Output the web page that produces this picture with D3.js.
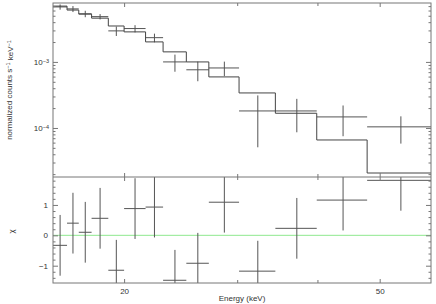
<!DOCTYPE html>
<html lang="en">
<head>
    <meta charset="UTF-8">
    <title>Spectrum</title>
    <script src="https://d3js.org/d3.v7.min.js"></script>
    <style>
        body { margin: 0; background: #fff; }
        text { font-family: "Liberation Sans", Arial, sans-serif; fill: #333; }
    </style>
</head>
<body>
<script>

    const width = 436;
    const height = 304;

    // bin edges (keV), data, errors, folded model, residuals
    const eEdges = [15.5, 16.3, 17.0, 17.8, 18.9, 20.0, 21.6, 23.0, 25.0, 27.1, 30.2, 34.4, 39.9, 47.8, 60.1];
    const rate = [6.8e-3, 6.35e-3, 5.35e-3, 4.85e-3, 2.95e-3, 3.2e-3, 2.33e-3, 1.0e-3, 7.6e-4, 8.1e-4, 1.81e-4, 1.81e-4, 1.47e-4, 1.04e-4];
    const rateErr = [6.2e-4, 6.6e-4, 6.0e-4, 4.5e-4, 4.8e-4, 4.0e-4, 3.5e-4, 2.9e-4, 2.5e-4, 2.0e-4, 1.3e-4, 9.5e-5, 7.2e-5, 4.6e-5];
    const model = [7.0e-3, 6.1e-3, 5.3e-3, 4.6e-3, 3.5e-3, 2.85e-3, 2.01e-3, 1.42e-3, 1.0e-3, 5.93e-4, 3.39e-4, 1.67e-4, 6.58e-5, 2.08e-5];
    const chi = [-0.33, 0.40, 0.10, 0.56, -1.15, 0.88, 0.93, -1.48, -0.92, 1.09, -1.18, 0.23, 1.16, 1.81];

    const xMajor = [20, 50];
    const xMinor = [30, 40];
    const yUpMajor = [1e-3, 1e-4];
    const yUpLabels = ["-3", "-4"];
    const yLoMajor = [-1, 0, 1];

    const pLeft = 53, pRight = 431, pTop = 3, pMid = 177, pBottom = 283;
    const lineCol = "#555";
    const frameCol = "#777";

    const x = d3.scaleLog().domain([15.5, 60.1]).range([pLeft, pRight]);
    const yU = d3.scaleLog().domain([1.81e-5, 7.8e-3]).range([pMid, pTop]);
    const yL = d3.scaleLinear().domain([-1.57, 1.92]).range([pBottom, pMid]);

    const bins = rate.map((r, i) => ({
        lo: eEdges[i], hi: eEdges[i + 1], c: (eEdges[i] + eEdges[i + 1]) / 2,
        r: r, e: rateErr[i], m: model[i], chi: chi[i]
    }));

    const svg = d3.select("body").append("svg")
        .attr("width", width).attr("height", height)
        .style("display", "block");

    svg.append("rect").attr("width", width).attr("height", height).attr("fill", "#fff");

    const defs = svg.append("defs");
    defs.append("clipPath").attr("id", "clipU").append("rect")
        .attr("x", pLeft).attr("y", pTop).attr("width", pRight - pLeft).attr("height", pMid - pTop);
    defs.append("clipPath").attr("id", "clipL").append("rect")
        .attr("x", pLeft).attr("y", pMid).attr("width", pRight - pLeft).attr("height", pBottom - pMid);

    // ---------- upper panel ----------
    const gU = svg.append("g").attr("clip-path", "url(#clipU)")
        .attr("stroke", lineCol).attr("stroke-width", 1).attr("fill", "none");

    bins.forEach(d => {
        gU.append("line").attr("x1", x(d.lo)).attr("x2", x(d.hi)).attr("y1", yU(d.r)).attr("y2", yU(d.r));
        gU.append("line").attr("x1", x(d.c)).attr("x2", x(d.c))
            .attr("y1", yU(d.r + d.e)).attr("y2", yU(Math.max(d.r - d.e, 1e-7)));
    });

    const stepPts = bins.map(d => [d.lo, d.m]);
    stepPts.push([bins[bins.length - 1].hi, bins[bins.length - 1].m]);
    const step = d3.line().x(d => x(d[0])).y(d => yU(d[1])).curve(d3.curveStepAfter);
    gU.append("path").attr("d", step(stepPts)).attr("stroke", "#444");

    // ---------- lower panel ----------
    const gL = svg.append("g").attr("clip-path", "url(#clipL)")
        .attr("stroke", lineCol).attr("stroke-width", 1).attr("fill", "none");

    gL.append("line").attr("x1", pLeft).attr("x2", pRight).attr("y1", yL(0)).attr("y2", yL(0))
        .attr("stroke", "#8fe88f");

    bins.forEach(d => {
        gL.append("line").attr("x1", x(d.lo)).attr("x2", x(d.hi)).attr("y1", yL(d.chi)).attr("y2", yL(d.chi));
        gL.append("line").attr("x1", x(d.c)).attr("x2", x(d.c))
            .attr("y1", yL(d.chi + 1)).attr("y2", yL(d.chi - 1));
    });

    // ---------- axes (inward ticks) ----------
    function ticks(axis, tr) {
        const g = svg.append("g").attr("transform", tr).call(axis);
        g.select(".domain").remove();
        g.selectAll("line").attr("stroke", frameCol);
        g.selectAll("text").attr("fill", "#333").style("font-size", "8px");
        return g;
    }

    const upMinor = [];
    for (let p = -5; p <= -3; p++) for (let k = 2; k <= 9; k++) {
        const v = k * Math.pow(10, p);
        if (v > 1.81e-5 && v < 7.8e-3) upMinor.push(v);
    }
    const loMinor = d3.range(-1.4, 1.91, 0.2).filter(v => Math.abs(v - Math.round(v)) > 0.05);

    // horizontal axes: top of upper, boundary, top of lower, bottom
    [[pTop, 1], [pMid, -1], [pMid, 1], [pBottom, -1]].forEach(([yy, dir]) => {
        const mk = dir > 0 ? d3.axisTop : d3.axisBottom;
        ticks(mk(x).tickValues(xMajor).tickSize(-4).tickFormat(""), `translate(0,${yy})`);
        ticks(mk(x).tickValues(xMinor).tickSize(-3).tickFormat(""), `translate(0,${yy})`);
    });

    ticks(d3.axisBottom(x).tickValues(xMajor).tickSize(0).tickPadding(5).tickFormat(d3.format("d")),
        `translate(0,${pBottom})`);

    // upper y
    const yuL = ticks(d3.axisLeft(yU).tickValues(yUpMajor).tickSize(-5).tickPadding(4).tickFormat(""), `translate(${pLeft},0)`);
    ticks(d3.axisLeft(yU).tickValues(upMinor).tickSize(-2.5).tickFormat(""), `translate(${pLeft},0)`);
    ticks(d3.axisRight(yU).tickValues(yUpMajor).tickSize(-5).tickFormat(""), `translate(${pRight},0)`);
    ticks(d3.axisRight(yU).tickValues(upMinor).tickSize(-2.5).tickFormat(""), `translate(${pRight},0)`);

    yuL.selectAll("text").each(function (d, i) {
        const t = d3.select(this);
        t.append("tspan").text("10");
        t.append("tspan").attr("dy", "-0.45em").style("font-size", "5.5px").text("\u2212" + yUpLabels[i].slice(1));
    });

    // lower y
    ticks(d3.axisLeft(yL).tickValues(yLoMajor).tickSize(-5).tickPadding(5)
        .tickFormat(d => d < 0 ? "\u2212" + Math.abs(d) : d), `translate(${pLeft},0)`);
    ticks(d3.axisLeft(yL).tickValues(loMinor).tickSize(-2.5).tickFormat(""), `translate(${pLeft},0)`);
    ticks(d3.axisRight(yL).tickValues(yLoMajor).tickSize(-5).tickFormat(""), `translate(${pRight},0)`);
    ticks(d3.axisRight(yL).tickValues(loMinor).tickSize(-2.5).tickFormat(""), `translate(${pRight},0)`);

    // frames
    svg.append("rect").attr("x", pLeft).attr("y", pTop).attr("width", pRight - pLeft).attr("height", pBottom - pTop)
        .attr("fill", "none").attr("stroke", frameCol);
    svg.append("line").attr("x1", pLeft).attr("x2", pRight).attr("y1", pMid).attr("y2", pMid).attr("stroke", frameCol);

    // titles
    const yt = svg.append("text").attr("transform", `translate(12,${(pTop + pMid) / 2}) rotate(-90)`)
        .attr("text-anchor", "middle").style("font-size", "8px");
    yt.append("tspan").text("normalized counts s");
    yt.append("tspan").attr("dy", "-0.45em").style("font-size", "5.5px").text("\u22121");
    yt.append("tspan").attr("dy", "0.45em").text(" keV");
    yt.append("tspan").attr("dy", "-0.45em").style("font-size", "5.5px").text("\u22121");

    svg.append("text").attr("transform", `translate(14,${yL(0) - 4}) rotate(-90)`)
        .attr("text-anchor", "middle").style("font-size", "8px").text("\u03c7");

    svg.append("text").attr("x", (pLeft + pRight) / 2).attr("y", 301)
        .attr("text-anchor", "middle").style("font-size", "8px").text("Energy (keV)");

</script>
</body>
</html>
